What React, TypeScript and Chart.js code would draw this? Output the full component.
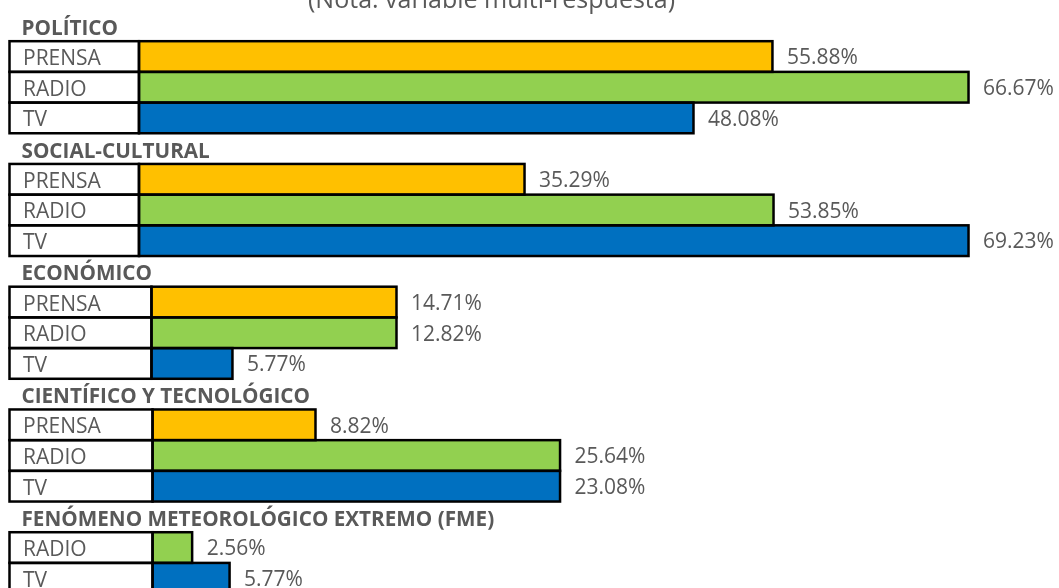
import React, { useEffect, useRef } from "react";
import { Chart, registerables } from "chart.js";

Chart.register(...registerables);

// ---------- data ----------
const titulo = "(Nota: variable multi-respuesta)";
const grupos = [
  "POLÍTICO",
  "SOCIAL-CULTURAL",
  "ECONÓMICO",
  "CIENTÍFICO Y TECNOLÓGICO",
  "FENÓMENO METEOROLÓGICO EXTREMO (FME)",
];
const medios = [
  ["PRENSA", "RADIO", "TV"],
  ["PRENSA", "RADIO", "TV"],
  ["PRENSA", "RADIO", "TV"],
  ["PRENSA", "RADIO", "TV"],
  ["RADIO", "TV"],
];
// printed percentages
const porcentajes = [
  [55.88, 66.67, 48.08],
  [35.29, 53.85, 69.23],
  [14.71, 12.82, 5.77],
  [8.82, 25.64, 23.08],
  [2.56, 5.77],
];
// bar lengths as drawn in the picture (axis units)
const longitudBarra = [
  [52.79, 69.13, 46.21],
  [32.13, 52.88, 69.13],
  [20.42, 20.42, 6.75],
  [13.58, 33.96, 33.96],
  [3.3, 6.42],
];
// width of the label box in front of each group's bars (axis units)
const anchoCaja = [10.79, 10.79, 11.83, 11.92, 11.92];
const xMax = 87.46;

const colores: Record<string, string> = {
  PRENSA: "#FFC000",
  RADIO: "#92D050",
  TV: "#0070C0",
};

const FONT = '"Open Sans", sans-serif';
const GRIS = "#595959";

type Row = { header: boolean; g: number; i: number };

export default function App() {
  const ref = useRef<HTMLCanvasElement | null>(null);

  useEffect(() => {
    const canvas = ref.current;
    if (!canvas) return;

    const rows: Row[] = [];
    grupos.forEach((_, g) => {
      rows.push({ header: true, g, i: -1 });
      medios[g].forEach((_, i) => rows.push({ header: false, g, i }));
    });
    const labels = rows.map((r) =>
      r.header ? grupos[r.g] : grupos[r.g] + " - " + medios[r.g][r.i]
    );

    const overlay = {
      id: "overlay",
      afterDatasetsDraw(chart: any) {
        const ctx = chart.ctx as CanvasRenderingContext2D;
        ctx.save();
        // outlines (centered strokes)
        ctx.lineWidth = 2.5;
        ctx.strokeStyle = "#000000";
        [0, 1].forEach((di) => {
          const meta = chart.getDatasetMeta(di);
          meta.data.forEach((el: any, idx: number) => {
            const v = chart.data.datasets[di].data[idx];
            if (v == null) return;
            const { x, y, base, height } = el.getProps(
              ["x", "y", "base", "height"],
              true
            );
            const l = Math.min(x, base);
            const r = Math.max(x, base);
            ctx.strokeRect(l, y - height / 2, r - l, height);
          });
        });

        const yScale = chart.scales.y;
        const metaBar = chart.getDatasetMeta(1);
        ctx.fillStyle = GRIS;
        ctx.textBaseline = "alphabetic";
        rows.forEach((r, idx) => {
          const cy = yScale.getPixelForValue(idx);
          if (r.header) {
            ctx.font = "bold 20.7px " + FONT;
            ctx.textAlign = "left";
            ctx.fillText(grupos[r.g], 21.5, cy + 9);
          } else {
            ctx.font = "21px " + FONT;
            ctx.textAlign = "left";
            ctx.fillText(medios[r.g][r.i], 23, cy + 8.5);
            const el = metaBar.data[idx];
            const { x } = el.getProps(["x"], true);
            ctx.fillText(porcentajes[r.g][r.i].toFixed(2) + "%", x + 14.5, cy + 7.8);
          }
        });

        ctx.font = "25px " + FONT;
        ctx.textAlign = "center";
        ctx.fillText(titulo, 491.5, 7.5);
        ctx.restore();
      },
    };

    const chart = new Chart(canvas, {
      type: "bar",
      data: {
        labels,
        datasets: [
          {
            label: "caja",
            data: rows.map((r) => (r.header ? null : anchoCaja[r.g])),
            backgroundColor: "#FFFFFF",
            borderWidth: 0,
            barPercentage: 1,
            categoryPercentage: 1,
          },
          {
            label: "valor",
            data: rows.map((r) => (r.header ? null : longitudBarra[r.g][r.i])),
            backgroundColor: rows.map((r) =>
              r.header ? "#FFFFFF" : colores[medios[r.g][r.i]]
            ),
            borderWidth: 0,
            barPercentage: 1,
            categoryPercentage: 1,
          },
        ],
      },
      options: {
        indexAxis: "y",
        animation: false,
        responsive: false,
        maintainAspectRatio: false,
        layout: { padding: { left: 9.5, right: 0, top: 10.5, bottom: 6.4 } },
        plugins: {
          legend: { display: false },
          tooltip: { enabled: false },
          title: { display: false },
        },
        scales: {
          x: { type: "linear", min: 0, max: xMax, stacked: true, display: false },
          y: { type: "category", stacked: true, display: false },
        },
      },
      plugins: [overlay],
    });

    return () => chart.destroy();
  }, []);

  return (
    <div
      style={{
        position: "fixed",
        left: 0,
        top: 0,
        width: 1059,
        height: 588,
        overflow: "hidden",
        background: "#FFFFFF",
      }}
    >
      <canvas ref={ref} width={1059} height={600} style={{ display: "block" }} />
    </div>
  );
}
